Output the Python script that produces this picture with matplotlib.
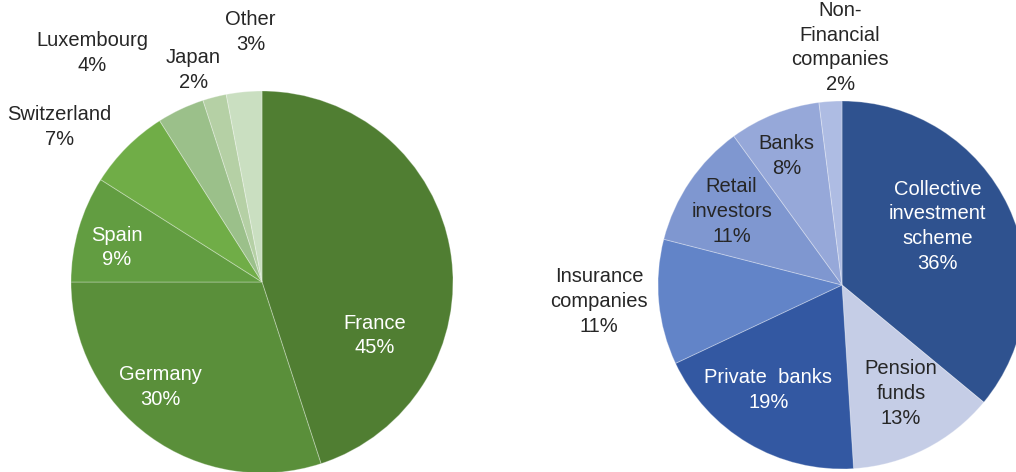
import matplotlib.pyplot as plt

plt.rcParams['font.family'] = ['Liberation Sans', 'DejaVu Sans']

# left pie: by country
countries = ['France', 'Germany', 'Spain', 'Switzerland', 'Luxembourg', 'Japan', 'Other']
country_pct = [45, 30, 9, 7, 4, 2, 3]

# right pie: by investor type
investors = ['Collective\ninvestment\nscheme', 'Pension\nfunds', 'Private  banks',
             'Insurance\ncompanies', 'Retail\ninvestors', 'Banks', 'Non-\nFinancial\ncompanies']
investor_pct = [36, 13, 19, 11, 11, 8, 2]

# styling
green = ['#507E32', '#5A8F3A', '#629D41', '#70AD47', '#9BC08A', '#B5D0A5', '#CADFC1']
blue = ['#2F528F', '#C5CDE6', '#3358A2', '#6284C8', '#7F97D0', '#96A8D9', '#AEBCE3']
green_txt = ['white', 'white', 'white', '#262626', '#262626', '#262626', '#262626']
blue_txt = ['white', '#262626', 'white', '#262626', '#262626', '#262626', '#262626']
green_pos = [(0.59, -0.28), (-0.53, -0.55), (-0.76, 0.18), (-1.06, 0.81),
             (-0.89, 1.20), (-0.36, 1.11), (-0.06, 1.31)]
blue_pos = [(0.52, 0.32), (0.32, -0.59), (-0.40, -0.57), (-1.32, -0.09),
            (-0.60, 0.40), (-0.30, 0.70), (-0.01, 1.29)]

W, H = 1016, 472
fig = plt.figure(figsize=(W / 100, H / 100), dpi=100)


def pie_axes(cx, cy, r):
    return fig.add_axes([(cx - 1.5 * r) / W, (H - cy - 1.5 * r) / H, 3 * r / W, 3 * r / H])


def draw(ax, names, values, colors, txtcol, pos):
    ax.pie(values, colors=colors, startangle=90, counterclock=False,
           wedgeprops=dict(edgecolor=(1, 1, 1, 0.3), linewidth=0.7))
    ax.set_xlim(-1.5, 1.5)
    ax.set_ylim(-1.5, 1.5)
    ax.set_aspect('auto')
    for name, v, c, (x, y) in zip(names, values, txtcol, pos):
        ax.text(x, y, f'{name}\n{v}%', ha='center', va='center', fontsize=14.5,
                color=c, linespacing=1.38)


ax1 = pie_axes(262, 282, 191)
draw(ax1, countries, country_pct, green, green_txt, green_pos)

ax2 = pie_axes(842, 285, 184)
draw(ax2, investors, investor_pct, blue, blue_txt, blue_pos)

fig.savefig('out.png', dpi=100)
